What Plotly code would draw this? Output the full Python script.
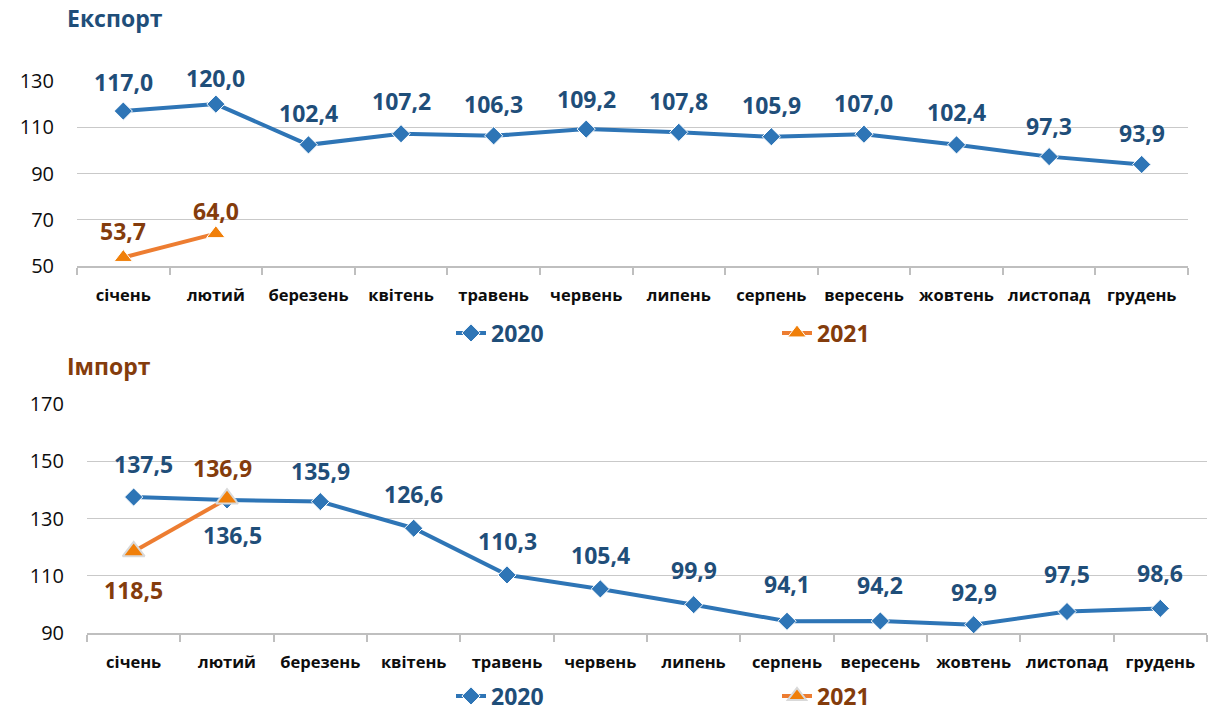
import plotly.graph_objects as go

months = ["січень", "лютий", "березень", "квітень", "травень", "червень",
          "липень", "серпень", "вересень", "жовтень", "листопад", "грудень"]

export_2020 = [117.0, 120.0, 102.4, 107.2, 106.3, 109.2, 107.8, 105.9, 107.0, 102.4, 97.3, 93.9]
export_2021 = [53.7, 64.0]
import_2020 = [137.5, 136.5, 135.9, 126.6, 110.3, 105.4, 99.9, 94.1, 94.2, 92.9, 97.5, 98.6]
import_2021 = [118.5, 136.9]

export_ticks = [50, 70, 90, 110, 130]
import_ticks = [90, 110, 130, 150, 170]

BLUE = "#2E75B6"
BLUE_TXT = "#1F4E79"
ORANGE = "#ED7D31"
ORANGE_MK = "#F07F09"
BROWN = "#843C0C"
FONT = "Open Sans"

W, H = 1217, 711


def px_x(p):
    return p / W


def px_y(p):
    return 1 - p / H


fig = go.Figure()

# label placement (pixel shifts) for each series
exp20_shift = [(0, 29), (0, 26), (0, 32), (0, 33), (0, 32), (0, 30), (0, 31), (0, 32), (0, 31), (0, 33), (0, 31), (0, 31)]
exp21_shift = [(0, 26), (0, 23)]
imp20_shift = [(10, 33), (5, -35), (0, 31), (0, 34), (0, 34), (0, 34), (0, 35), (0, 37), (0, 36), (0, 33), (0, 38), (0, 35)]
imp21_shift = [(0, -39), (-5, 31)]


def add_series(xa, ya, xs, ys, color, msymbol, msize, mcolor, mline, name, legend, txtcolor, shifts):
    fig.add_trace(go.Scatter(
        x=xs, y=ys, mode="lines+markers", xaxis=xa, yaxis=ya,
        line=dict(color=color, width=4),
        marker=dict(symbol=msymbol, size=msize, color=mcolor, line=mline),
        name=f"<span style='color:{txtcolor}'>{name}</span>",
        legend=legend, hoverinfo="skip",
    ))
    for xv, yv, (dx, dy) in zip(xs, ys, shifts):
        fig.add_annotation(
            x=xv, y=yv, xref=xa, yref=ya,
            text=f"{yv:.1f}".replace(".", ","), showarrow=False,
            xshift=dx, yshift=dy,
            font=dict(family=FONT, size=23, color=txtcolor, weight="bold"),
        )


add_series("x", "y", months, export_2020, BLUE, "diamond", 14, BLUE,
           dict(color="white", width=1), "2020", "legend", BLUE_TXT, exp20_shift)
add_series("x", "y", months[:len(export_2021)], export_2021, ORANGE, "triangle-up", 16, ORANGE_MK,
           dict(color="white", width=1), "2021", "legend", BROWN, exp21_shift)
add_series("x2", "y2", months, import_2020, BLUE, "diamond", 14, BLUE,
           dict(color="white", width=1), "2020", "legend2", BLUE_TXT, imp20_shift)
add_series("x2", "y2", months[:len(import_2021)], import_2021, ORANGE, "triangle-up", 19, ORANGE_MK,
           dict(color="#D9D9D9", width=2), "2021", "legend2", BROWN, imp21_shift)

xaxis_style = dict(
    type="category", range=[-0.5, 11.5], showgrid=False,
    showline=True, linecolor="#BFBFBF", linewidth=1.5,
    ticks="outside", tickson="boundaries", ticklen=7, tickcolor="#BFBFBF", tickwidth=1.5,
    tickfont=dict(family=FONT, size=16.5, color="#0D0D0D", weight="bold"),
    tickangle=0, ticklabelstandoff=13, fixedrange=True,
)
yaxis_style = dict(
    showgrid=True, gridcolor="#C9C9C9", gridwidth=1.2, zeroline=False,
    showline=False, ticks="", ticklabelstandoff=22,
    tickfont=dict(family=FONT, size=20, color="#0D0D0D"), fixedrange=True,
)

legend_style = dict(
    orientation="h", xanchor="left", yanchor="middle",
    entrywidth=281, entrywidthmode="pixels", bgcolor="rgba(0,0,0,0)",
    font=dict(family=FONT, size=23, weight="bold"), itemclick=False,
)

fig.update_layout(
    width=W, height=H, margin=dict(l=0, r=0, t=0, b=0, autoexpand=False),
    paper_bgcolor="white", plot_bgcolor="white",
    showlegend=True,
    xaxis=dict(**xaxis_style, domain=[px_x(77), px_x(1188)], anchor="y"),
    yaxis=dict(**yaxis_style, domain=[px_y(266), px_y(81)], range=[50, 130],
               tickvals=export_ticks, anchor="x"),
    xaxis2=dict(**xaxis_style, domain=[px_x(87), px_x(1207)], anchor="y2"),
    yaxis2=dict(**yaxis_style, domain=[px_y(633), px_y(404)], range=[90, 170],
                tickvals=import_ticks, anchor="x2"),
    legend=dict(**legend_style, x=px_x(451), y=px_y(333)),
    legend2=dict(**legend_style, x=px_x(451), y=px_y(696)),
)

fig.add_annotation(text="Експорт", xref="paper", yref="paper", x=px_x(65), y=px_y(18),
                   xanchor="left", yanchor="middle", showarrow=False,
                   font=dict(family=FONT, size=23, color=BLUE_TXT, weight="bold"))
fig.add_annotation(text="Імпорт", xref="paper", yref="paper", x=px_x(65), y=px_y(366),
                   xanchor="left", yanchor="middle", showarrow=False,
                   font=dict(family=FONT, size=23, color=BROWN, weight="bold"))

fig.write_html("out.html")
